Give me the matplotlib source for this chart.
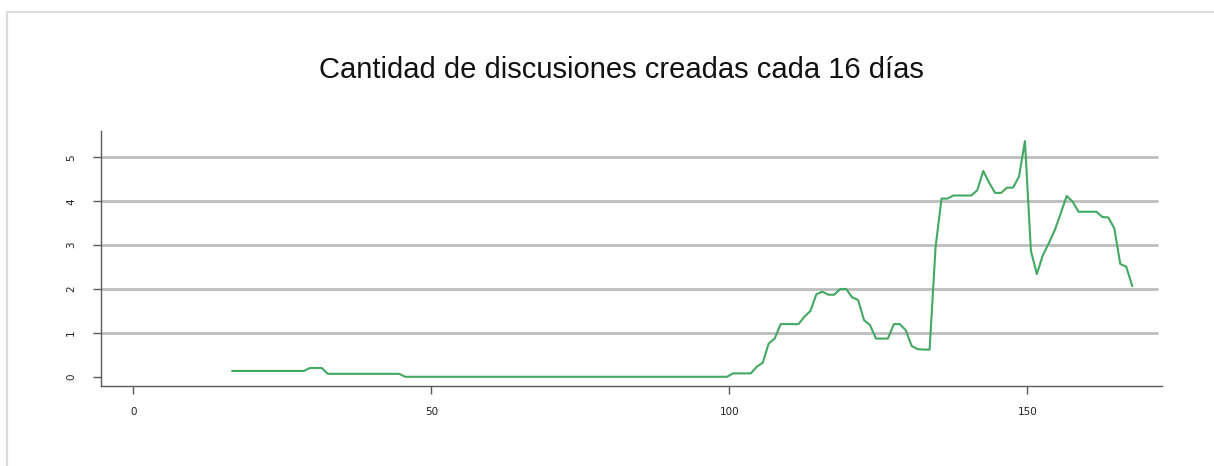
import numpy as np
import matplotlib
matplotlib.use("Agg")
import matplotlib.pyplot as plt
from matplotlib.patches import Rectangle

title = "Cantidad de discusiones creadas cada 16 días"

x_start = 16.6
values = (
    [0.133] * 13 +            # 16.6 .. 28.6
    [0.2, 0.2, 0.2] +          # 29.6 .. 31.6
    [0.067] * 13 +             # 32.6 .. 44.6
    [0.0] * 55 +               # 45.6 .. 99.6
    [0.077, 0.077, 0.077, 0.077, 0.23, 0.32, 0.76, 0.87, 1.2, 1.2,
     1.2, 1.2, 1.37, 1.5, 1.88, 1.94, 1.87, 1.87, 2.0, 2.0,
     1.81, 1.75, 1.29, 1.18, 0.87, 0.87, 0.87, 1.2, 1.2, 1.06,
     0.70, 0.63, 0.62, 0.62, 2.95, 4.06, 4.06, 4.13, 4.13, 4.13,
     4.13, 4.25, 4.69, 4.42, 4.19, 4.19, 4.31, 4.31, 4.56, 5.37,
     2.87, 2.34, 2.77, 3.04, 3.34, 3.72, 4.12, 3.99, 3.76, 3.76,
     3.76, 3.76, 3.64, 3.63, 3.38, 2.57, 2.51, 2.07]
)
x = x_start + np.arange(len(values))

xticks = [0, 50, 100, 150]
yticks = [0, 1, 2, 3, 4, 5]
grid_levels = [1, 2, 3, 4, 5]

W, H = 1214, 466
fig = plt.figure(figsize=(W / 100, H / 100), dpi=100)
fig.patch.set_facecolor("white")

# outer light frame
fig.add_artist(Rectangle((7 / W, -0.1), 1.2, (H - 12) / H + 0.1,
                         transform=fig.transFigure, fill=False,
                         edgecolor="#dcdcdc", linewidth=1.6))

ax = fig.add_axes([101 / W, (H - 386) / H, (1162 - 101) / W, (386 - 131) / H])
ax.set_xlim(-5.45, 172.6)
ax.set_ylim(-0.21, 5.6)

for g in grid_levels:
    ax.plot([-5.45, 171.9], [g, g], color="#bdbdbd", linewidth=2.0,
            solid_capstyle="butt", zorder=1)

ax.plot(x, values, color="#42a862", linewidth=1.5, zorder=3)

for s in ["top", "right"]:
    ax.spines[s].set_visible(False)
for s in ["left", "bottom"]:
    ax.spines[s].set_color("#5a5a5a")
    ax.spines[s].set_linewidth(1.0)

ax.set_xticks(xticks)
ax.set_yticks(yticks)
ax.set_xticklabels([str(t) for t in xticks])
ax.set_yticklabels([str(t) for t in yticks], rotation=90, va="center")
ax.tick_params(axis="both", direction="out", length=6, width=1.0,
               color="#5a5a5a", labelsize=7.5, labelcolor="#222222")
ax.tick_params(axis="x", pad=9)
ax.tick_params(axis="y", pad=12)

fig.text(0.512, 1 - 70 / H, title, ha="center", va="center",
         fontsize=21, family="Liberation Sans", color="#111111")

fig.savefig("out.png", dpi=100)
